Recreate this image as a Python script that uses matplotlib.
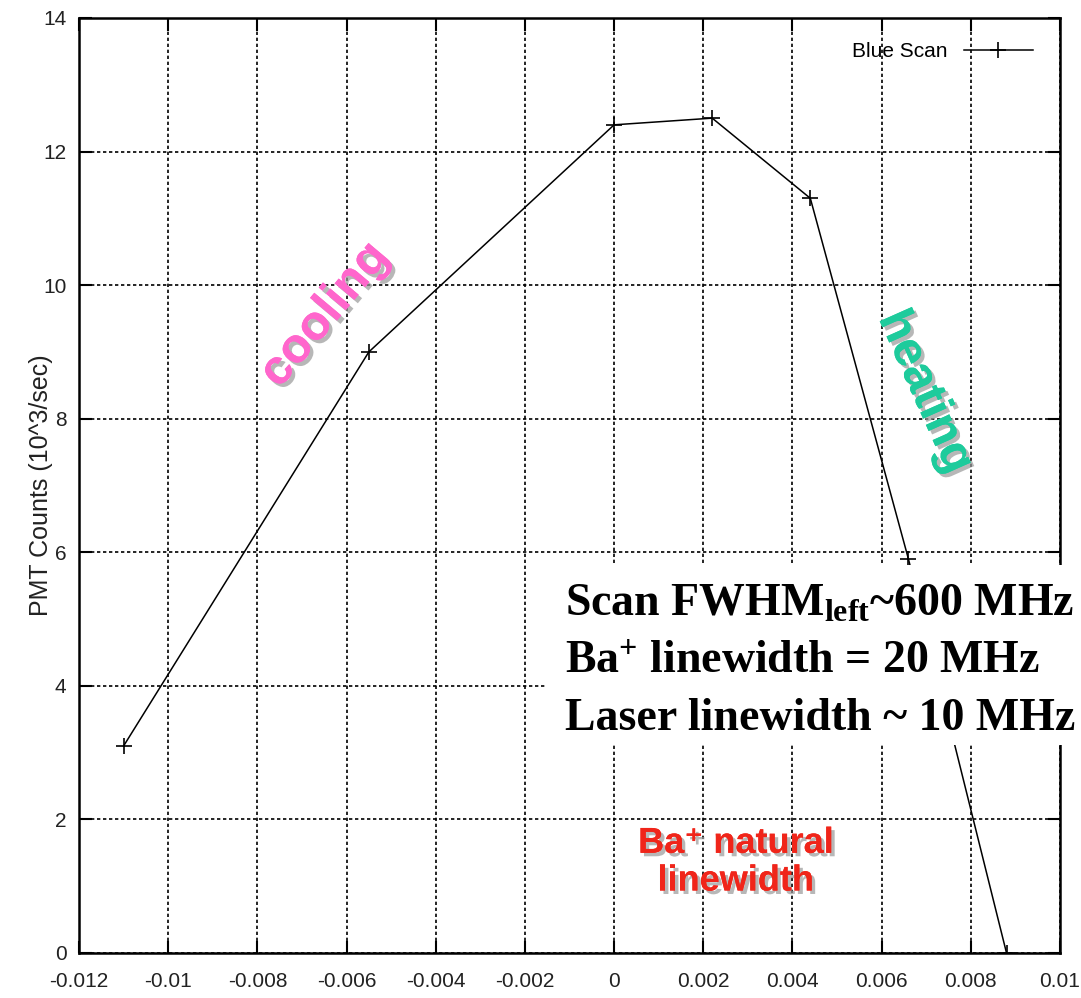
import matplotlib
matplotlib.use('Agg')
import matplotlib.pyplot as plt
import matplotlib.patheffects as pe
from matplotlib.patches import Rectangle

# blue scan: detuning vs PMT count rate
detuning = [-0.011, -0.0055, 0.0, 0.0022, 0.0044, 0.0066, 0.0088]
counts = [3.1, 9.0, 12.4, 12.5, 11.3, 5.9, 0.0]

x_ticks = [-0.012, -0.01, -0.008, -0.006, -0.004, -0.002, 0, 0.002, 0.004, 0.006, 0.008, 0.01]
x_labels = ['-0.012', '-0.01', '-0.008', '-0.006', '-0.004', '-0.002', '0',
            '0.002', '0.004', '0.006', '0.008', '0.01']
y_ticks = [0, 2, 4, 6, 8, 10, 12, 14]

plt.rcParams['mathtext.fontset'] = 'custom'
plt.rcParams['mathtext.rm'] = 'Liberation Serif:bold'
plt.rcParams['mathtext.bf'] = 'Liberation Serif:bold'
plt.rcParams['mathtext.it'] = 'Liberation Serif:bold:italic'

fig = plt.figure(figsize=(10.81, 9.98), dpi=100)
ax = fig.add_axes([0.0731, 0.0451, 0.9075, 0.9369])

ax.plot(detuning, counts, color='black', lw=1.1, marker='+', ms=12, mew=1.2,
        label='Blue Scan', zorder=3)

ax.set_xlim(-0.012, 0.01)
ax.set_ylim(0, 14)
ax.set_xticks(x_ticks)
ax.set_xticklabels(x_labels)
ax.set_yticks(y_ticks)

for lab in ax.get_xticklabels() + ax.get_yticklabels():
    lab.set_fontfamily('Liberation Sans')
    lab.set_fontsize(15)
    lab.set_color('#222222')
ax.tick_params(direction='in', length=9, width=1.5, top=True, right=True)
ax.tick_params(axis='x', pad=14)
ax.tick_params(axis='y', pad=9)
ax.grid(True, color='black', linestyle=(0, (2.0, 1.6)), linewidth=1.2)
for s in ax.spines.values():
    s.set_linewidth(1.8)

ax.set_ylabel('PMT Counts (10^3/sec)', family='Liberation Sans', fontsize=18, color='#222222')
ax.yaxis.set_label_coords(-0.027, 0.5)

leg = ax.legend(loc='upper right', bbox_to_anchor=(0.987, 0.99), frameon=False,
                markerfirst=False, handlelength=3.3, borderaxespad=0.3,
                prop={'family': 'Liberation Sans', 'size': 15})

shadow = [pe.withSimplePatchShadow(offset=(2.5, -2.5), shadow_rgbFace='#999999', alpha=0.7),
          pe.Normal()]

ax.text(-0.00648, 9.55, 'cooling', color='#FF66CC', fontsize=35, fontweight='bold',
        family='Liberation Sans', rotation=50, ha='center', va='center',
        rotation_mode='anchor', path_effects=shadow, zorder=4)
ax.text(0.00697, 8.4, 'heating', color='#1ECB9C', fontsize=35, fontweight='bold',
        family='Liberation Sans', rotation=-66, ha='center', va='center',
        rotation_mode='anchor', path_effects=shadow, zorder=4)
ax.text(0.00273, 1.36, 'Ba\u207a natural\nlinewidth', color='#F0251A', fontsize=26,
        fontweight='bold', family=['Liberation Sans', 'DejaVu Sans'], ha='center',
        va='center', linespacing=1.1, path_effects=shadow, zorder=4)

# white box with scan summary, running off the right edge
fig.patches.append(Rectangle((0.504, 0.2535), 0.5, 0.1804, transform=fig.transFigure,
                             facecolor='white', edgecolor='none', zorder=5))
box_lines = [r'Scan FWHM$_{\rm left}$~600 MHz',
             r'Ba$^{+}$ linewidth = 20 MHz',
             r'Laser linewidth ~ 10 MHz']
for i, txt in enumerate(box_lines):
    fig.text(0.523, 0.383 - i * 0.057, txt, fontsize=33, fontweight='bold',
             family='Liberation Serif', color='black', zorder=6)

fig.savefig('out.png', dpi=100)
